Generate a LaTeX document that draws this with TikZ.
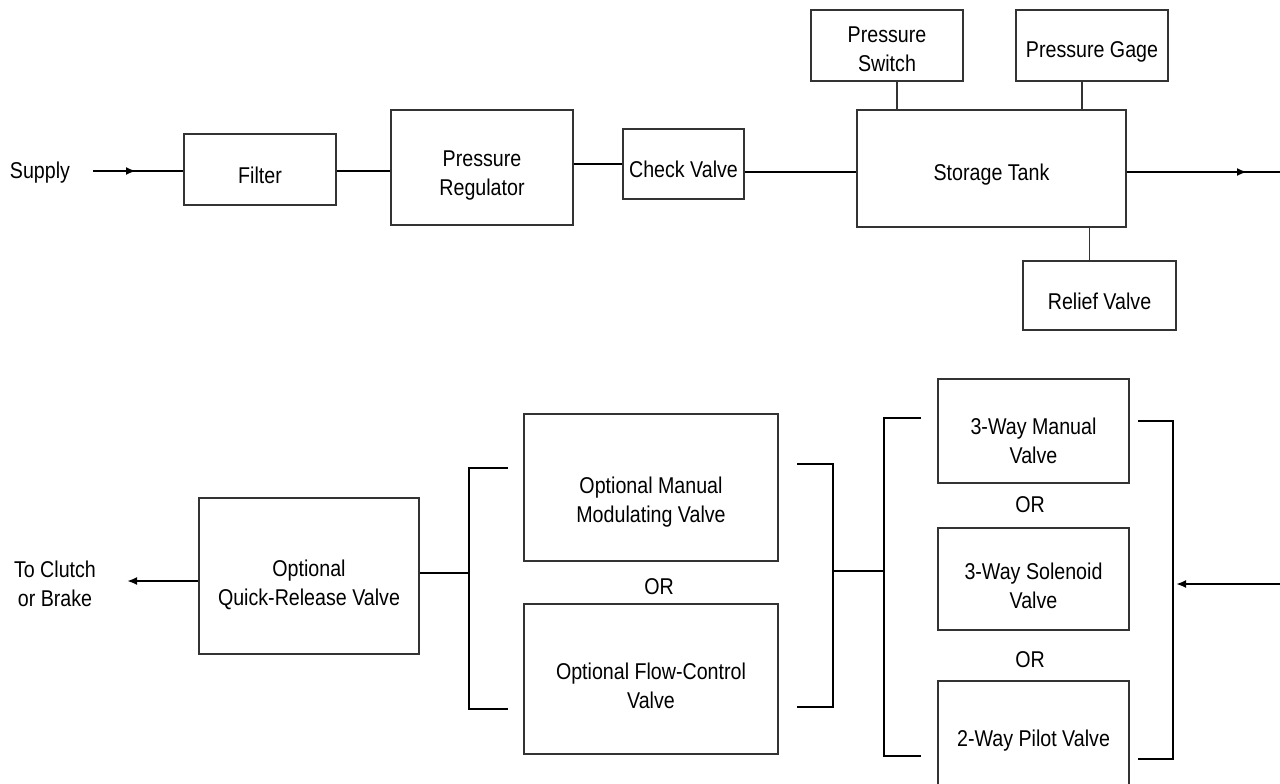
\documentclass[tikz,border=0pt]{standalone}
\usepackage{fontspec}
\setmainfont[FakeStretch=0.86]{Liberation Sans}
\usepackage{tikz}
\usetikzlibrary{arrows.meta, positioning}

\begin{document}
\begin{tikzpicture}[
        every node/.style={font=\fontsize{13}{16.5}\selectfont},
        unit/.style={
          draw=black!80,
          line width=0.75pt,
          rectangle,
          inner sep=0pt,
          text height=16pt,
          align=center
        },
        twoline/.style={unit, text height=34pt},
        label/.style={align=center},
        flow/.style={line width=1.3pt},
        tap/.style={line width=0.75pt, draw=black!80},
        bracketline/.style={line width=1.4pt, line cap=rect},
        tip/.style={-{Latex[length=0.2cm, width=0.16cm]}}
      ]
      \useasboundingbox (0,0) rectangle (25.6,-15.66);
      \clip (0,0) rectangle (25.6,-15.66);

      % Supply line
      \node[label] (supply) at (0.80,-3.46) {Supply};
      \node[unit, minimum width=3.04cm, minimum height=1.42cm] (filter) at (5.20,-3.39) {Filter};
      \node[twoline, minimum width=3.64cm, minimum height=2.30cm] (regulator) at (9.64,-3.35) {Pressure\\Regulator};
      \node[unit, minimum width=2.42cm, minimum height=1.40cm] (check) at (13.67,-3.28) {Check Valve};
      \node[unit, minimum width=5.38cm, minimum height=2.34cm] (tank) at (19.83,-3.37) {Storage Tank};

      % Tank fittings
      \node[twoline, minimum width=3.04cm, minimum height=1.42cm, text height=30pt] (pswitch) at (17.74,-0.91) {Pressure\\Switch};
      \node[unit, minimum width=3.04cm, minimum height=1.42cm] (pgage) at (21.84,-0.91) {Pressure Gage};
      \node[unit, minimum width=3.06cm, minimum height=1.38cm] (relief) at (21.99,-5.91) {Relief Valve};

      \coordinate (supplyin) at (1.86,-3.42);
      \coordinate (supplymid) at (2.72,-3.42);
      \coordinate (tankmid) at (24.94,-3.44);
      \coordinate (tankout) at (25.6,-3.44);

      \draw[flow] (supplyin) -- (filter.west |- supplyin);
      \draw[flow, tip] (supplyin) -- (supplymid);
      \draw[flow] (filter.east |- supplymid) -- (regulator.west |- supplymid);
      \draw[flow] (regulator.east |- check.west) -- (check.west);
      \draw[flow] (check.east |- tankmid) -- (tank.west |- tankmid);
      \draw[flow] (tank.east |- tankmid) -- (tankout);
      \draw[flow, tip] (tank.east |- tankmid) -- (tankmid);

      \draw[tap] ([xshift=0.2cm]pswitch.south) -- ([xshift=0.2cm]pswitch.south |- tank.north);
      \draw[tap] ([xshift=-0.2cm]pgage.south) -- ([xshift=-0.2cm]pgage.south |- tank.north);
      \draw[tap] ([xshift=-0.2cm]relief.north) -- ([xshift=-0.2cm]relief.north |- tank.south);

      % Control line
      \node[label] (clutch) at (1.10,-11.68) {To Clutch\\or Brake};
      \node[twoline, minimum width=4.40cm, minimum height=3.12cm, text height=36pt] (quick) at (6.18,-11.52) {Optional\\Quick-Release Valve};
      \node[twoline, minimum width=5.08cm, minimum height=2.94cm, text height=42pt] (modulating) at (13.02,-9.75) {Optional Manual\\Modulating Valve};
      \node[label] (or1) at (13.18,-11.74) {OR};
      \node[twoline, minimum width=5.08cm, minimum height=3.00cm] (flowctl) at (13.02,-13.58) {Optional Flow-Control\\Valve};

      \node[twoline, minimum width=3.82cm, minimum height=2.08cm, text height=37pt] (manual) at (20.67,-8.62) {3-Way Manual\\Valve};
      \node[label] (or2) at (20.60,-10.10) {OR};
      \node[twoline, minimum width=3.82cm, minimum height=2.04cm] (solenoid) at (20.67,-11.58) {3-Way Solenoid\\Valve};
      \node[label] (or3) at (20.60,-13.20) {OR};
      \node[unit, minimum width=3.82cm, minimum height=2.36cm, text height=10pt] (pilot) at (20.67,-14.80) {2-Way Pilot Valve};

      % Brackets
      \coordinate (joinA) at (9.38,-11.46);
      \coordinate (joinB) at (16.66,-11.42);
      \coordinate (joinC) at (17.68,-11.42);
      \coordinate (joinD) at (23.46,-11.68);
      \coordinate (feed) at (25.6,-11.68);
      \coordinate (clutchend) at (2.54,-11.62);

      \draw[flow, tip] (quick.west |- clutchend) -- (clutchend);
      \draw[flow] (quick.east |- joinA) -- (joinA);
      \draw[bracketline] (10.14,-9.36) -- (9.38,-9.36) -- (9.38,-14.18) -- (10.14,-14.18);
      \draw[bracketline] (15.96,-9.28) -- (16.66,-9.28) -- (16.66,-14.14) -- (15.96,-14.14);
      \draw[flow] (joinB) -- (joinC);
      \draw[bracketline] (18.40,-8.36) -- (17.68,-8.36) -- (17.68,-15.12) -- (18.40,-15.12);
      \draw[bracketline] (22.78,-8.42) -- (23.46,-8.42) -- (23.46,-15.18) -- (22.78,-15.18);
      \draw[flow, tip] (feed) -- ([xshift=0.06cm]joinD);

    \end{tikzpicture}
\end{document}
